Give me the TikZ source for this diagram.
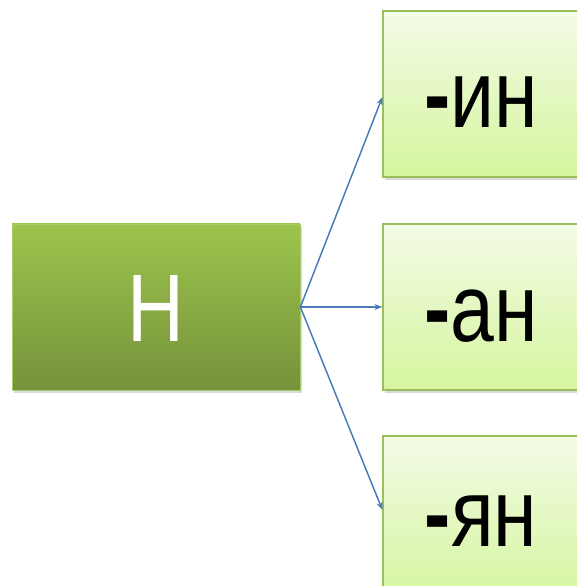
\documentclass[tikz,border=0pt]{standalone}
\usepackage{fontspec}
\setmainfont{Liberation Sans}
\newfontfamily\narrowfont[FakeStretch=0.82]{Liberation Sans}
\usetikzlibrary{shadows,arrows.meta,calc}
\definecolor{lgtop}{RGB}{157,196,76}
\definecolor{lgbot}{RGB}{118,146,60}
\definecolor{lgedge}{RGB}{168,204,104}
\definecolor{rgtop}{RGB}{243,251,230}
\definecolor{rgbot}{RGB}{214,245,158}
\definecolor{rgedge}{RGB}{155,192,90}
\definecolor{arrowblue}{RGB}{74,126,187}
\tikzset{
  srcbox/.style={rectangle, minimum width=288pt, minimum height=166pt, inner sep=0pt,
    top color=lgtop, bottom color=lgbot, draw=lgedge, line width=0.8pt,
    drop shadow={opacity=0.3, shadow xshift=2pt, shadow yshift=-3pt}},
  tgtbox/.style={rectangle, minimum width=288pt, minimum height=166pt, inner sep=0pt,
    top color=rgtop, bottom color=rgbot, draw=rgedge, line width=1.2pt,
    drop shadow={opacity=0.3, shadow xshift=2pt, shadow yshift=-3pt}},
  lbl/.style={font=\narrowfont\fontsize{96}{96}\selectfont, anchor=base, inner sep=0pt},
  conn/.style={draw=arrowblue, line width=1.5pt, -{Stealth[length=8pt,width=6pt]}}
}
\newcommand{\thickhy}{\textbf{-}}
\begin{document}
\begin{tikzpicture}[x=1pt,y=1pt]
\useasboundingbox (0,0) rectangle (577,586);
\node[srcbox] (L) at (156,279) {};
\node[tgtbox] (T) at (527,492) {};
\node[tgtbox] (M) at (527,279) {};
\node[tgtbox] (B) at (527,67) {};
\node[lbl, text=white] (Lt) at (156,244) {Н};
\node[lbl] (Tt) at (481,458) {\thickhy ин};
\node[lbl] (Mt) at (481,244) {\thickhy ан};
\node[lbl] (Bt) at (481,39) {\thickhy ян};
\draw[conn] (L.east) -- ($(T.west)+(0,-3)$);
\draw[conn] (L.east) -- (M.west);
\draw[conn] (L.east) -- ($(B.west)+(0,9)$);
\end{tikzpicture}
\end{document}
